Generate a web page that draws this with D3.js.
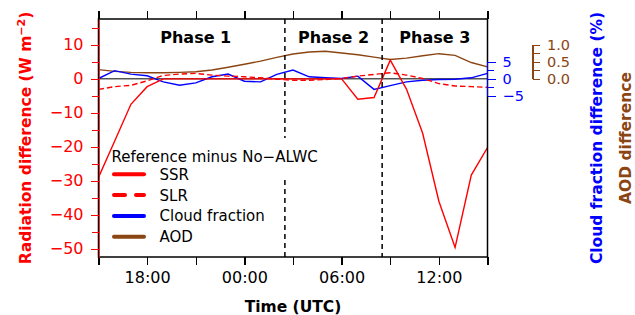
<!DOCTYPE html>
<html lang="en">
<head>
    <meta charset="UTF-8">
    <title>Reference minus No-ALWC</title>
    <script src="https://cdn.jsdelivr.net/npm/d3@7"></script>
</head>

<style>
    body {
        margin: 0;
        background: #fff;
    }
    text {
        font-family: "DejaVu Sans", sans-serif;
    }
    .axis path, .axis line {
        shape-rendering: crispEdges;
    }
</style>

<body>
<div class="chart"></div>
<script>
    // hourly values, Reference minus No-ALWC
    var times = ["15:00", "16:00", "17:00", "18:00", "19:00", "20:00", "21:00", "22:00", "23:00",
                 "00:00", "01:00", "02:00", "03:00", "04:00", "05:00", "06:00", "07:00", "08:00",
                 "09:00", "10:00", "11:00", "12:00", "13:00", "14:00", "15:00"];
    var ssr = [-29, -18.3, -7.5, -2.3, 0, 0, 0, 0, 0,
               0, 0, 0, 0, 0, 0, 0, -6, -5.5,
               5.5, -3, -16, -36, -49.6, -28.3, -20.2];
    var slr = [-3.1, -2.3, -1.9, -0.6, 1.0, 1.4, 1.6, 1.1, 0.8,
               0.6, 0.3, -0.1, -0.4, -0.4, -0.2, 0.1, 0.8, 1.3,
               1.8, 1.1, 0.1, -1.4, -2.1, -2.3, -2.5];
    var cloud = [0.1, 2.4, 1.4, 0.9, -0.9, -1.9, -1.2, 0.6, 1.4,
                 -0.7, -0.9, 1.3, 2.6, 0.6, 0.3, 0.1, 0.8, -3.1,
                 -2.0, -0.9, -0.4, -0.2, -0.1, 0.3, 1.6];
    var aod = [0.27, 0.22, 0.19, 0.18, 0.18, 0.19, 0.21, 0.26, 0.34,
               0.43, 0.52, 0.63, 0.73, 0.79, 0.81, 0.76, 0.71, 0.64,
               0.57, 0.61, 0.68, 0.74, 0.69, 0.48, 0.35];

    var phaseBreaks = ["02:30", "08:30"];
    var phaseNames = ["Phase 1", "Phase 2", "Phase 3"];
    var phaseLabelAt = ["21:00", "05:30", "11:45"];

    var radTicks = [-50, -40, -30, -20, -10, 0, 10];
    var cloudTicks = [-5, 0, 5];
    var aodTicks = [0, 0.5, 1.0];

    var legendTitle = "Reference minus No\u2212ALWC";
    var seriesNames = ["SSR", "SLR", "Cloud fraction", "AOD"];

    var red = "#ff0000", blue = "#0000ff", brown = "#8b4513";

    var width = 635, height = 315;
    var margin = {top: 19, right: 147.5, bottom: 58, left: 98.5};
    var W = width - margin.left - margin.right;
    var H = height - margin.top - margin.bottom;

    // "HH:MM" strings starting at 15:00, rolling over midnight
    function toDates(list) {
        var day = 1, last = 15 * 60 - 1;
        return list.map(function (s) {
            var p = s.split(":"), h = +p[0], m = +p[1], v = h * 60 + m;
            if (v <= last) day++;
            last = v;
            return new Date(Date.UTC(2000, 0, day, h, m));
        });
    }

    var t = toDates(times);

    var x = d3.scaleUtc().domain([t[0], t[t.length - 1]]).range([0, W]);
    var yRad = d3.scaleLinear().domain([-52.4, 17.6]).range([H, 0]);
    var yCloud = d3.scaleLinear().domain([-52.4, 17.6]).range([H, 0]);
    var yAod = d3.scaleLinear().domain([-5.24, 1.76]).range([H, 0]);

    var svg = d3.select(".chart").append("svg")
        .attr("width", width)
        .attr("height", height);

    var g = svg.append("g")
        .attr("transform", "translate(" + margin.left + "," + margin.top + ")");

    g.append("clipPath").attr("id", "plot-clip")
        .append("rect").attr("width", W).attr("height", H);

    // zero line
    g.append("line")
        .attr("x1", 0).attr("x2", W)
        .attr("y1", yRad(0)).attr("y2", yRad(0))
        .attr("stroke", "#000").attr("stroke-width", 1);

    var lines = g.append("g").attr("clip-path", "url(#plot-clip)");

    function drawLine(values, yScale, color, dash) {
        var line = d3.line()
            .x(function (d, i) { return x(t[i]); })
            .y(function (d) { return yScale(d); });
        lines.append("path")
            .datum(values)
            .attr("d", line)
            .attr("fill", "none")
            .attr("stroke", color)
            .attr("stroke-width", 1.4)
            .attr("stroke-dasharray", dash || null);
    }

    drawLine(aod, yAod, brown);
    drawLine(cloud, yCloud, blue);
    drawLine(slr, yRad, red, "5.5,3");
    drawLine(ssr, yRad, red);

    // frame
    g.append("rect")
        .attr("width", W).attr("height", H)
        .attr("fill", "none").attr("stroke", "#000").attr("stroke-width", 1.5);

    // axes
    var hourTicks = d3.utcHour.every(3);
    var fmt = d3.utcFormat("%H:%M");

    var xBottom = g.append("g").attr("class", "axis")
        .attr("transform", "translate(0," + H + ")")
        .call(d3.axisBottom(x).ticks(hourTicks).tickSize(8).tickPadding(7)
            .tickFormat(function (d) { return d.getUTCHours() % 6 === 0 ? fmt(d) : ""; }));
    xBottom.select(".domain").remove();
    xBottom.selectAll("text").attr("font-size", 16).attr("font-family", "DejaVu Sans");
    xBottom.selectAll("line").attr("stroke-width", 1.3);

    var xTop = g.append("g").attr("class", "axis")
        .call(d3.axisTop(x).ticks(hourTicks).tickSize(8).tickFormat(""));
    xTop.select(".domain").remove();
    xTop.selectAll("line").attr("stroke-width", 1.3);

    function styleAxis(sel, color, spineWidth, fontSize) {
        sel.select(".domain").attr("stroke", color).attr("stroke-width", spineWidth || 1.3);
        sel.selectAll("line").attr("stroke", color).attr("stroke-width", 1.3);
        sel.selectAll("text").attr("fill", color)
            .attr("font-size", fontSize || 16).attr("font-family", "DejaVu Sans");
    }

    // left: radiation
    var yLeftMinor = g.append("g").attr("class", "axis")
        .call(d3.axisLeft(yRad).tickValues(d3.range(-50, 16, 5)).tickSize(6.5).tickFormat("").tickSizeOuter(0));
    yLeftMinor.select(".domain").remove();
    styleAxis(yLeftMinor, red);
    var yLeft = g.append("g").attr("class", "axis")
        .call(d3.axisLeft(yRad).tickValues(radTicks).tickSize(8).tickPadding(7).tickSizeOuter(0));
    styleAxis(yLeft, red, 0.8);

    // right: cloud fraction
    var cloudX = W;
    var yCloudMinor = g.append("g").attr("class", "axis")
        .attr("transform", "translate(" + cloudX + ",0)")
        .call(d3.axisRight(yCloud).tickValues([-2.5, 2.5]).tickSize(6).tickFormat(""));
    yCloudMinor.select(".domain").remove();
    styleAxis(yCloudMinor, blue);
    var yRight = g.append("g").attr("class", "axis")
        .attr("transform", "translate(" + cloudX + ",0)")
        .call(d3.axisRight(yCloud).tickValues(cloudTicks).tickSize(8).tickPadding(7).tickSizeOuter(0));
    yRight.select(".domain").attr("d", "M0," + yCloud(5) + "V" + yCloud(-5));
    styleAxis(yRight, blue, 1.3, 14.5);

    // far right: AOD
    var aodX = W + 45.5;
    var yAodMinor = g.append("g").attr("class", "axis")
        .attr("transform", "translate(" + aodX + ",0)")
        .call(d3.axisRight(yAod).tickValues([0.25, 0.75]).tickSize(7).tickFormat(""));
    yAodMinor.select(".domain").remove();
    styleAxis(yAodMinor, brown);
    var yAodAxis = g.append("g").attr("class", "axis")
        .attr("transform", "translate(" + aodX + ",0)")
        .call(d3.axisRight(yAod).tickValues(aodTicks).tickSize(7).tickPadding(7)
            .tickFormat(d3.format(".1f")).tickSizeOuter(0));
    yAodAxis.select(".domain").attr("d", "M0," + yAod(1) + "V" + yAod(0));
    styleAxis(yAodAxis, brown, 1.3, 14.5);

    // ticks without labels keep no empty text
    g.selectAll(".axis text").filter(function () { return this.textContent === ""; }).remove();

    // phase labels
    var labelDates = toDates(phaseLabelAt);
    g.selectAll(".phase")
        .data(phaseNames)
        .enter().append("text")
        .attr("class", "phase")
        .attr("x", function (d, i) { return x(labelDates[i]); })
        .attr("y", 23.5)
        .attr("text-anchor", "middle")
        .attr("font-size", 16)
        .attr("font-weight", "bold")
        .text(function (d) { return d; });

    // legend
    var legend = g.append("g").attr("transform", "translate(13,143)");
    var lt = legend.append("text")
        .attr("x", 0).attr("y", 0)
        .attr("font-size", 15)
        .text(legendTitle);

    var legendStyle = [
        {color: red, dash: null},
        {color: red, dash: "11,11"},
        {color: blue, dash: null},
        {color: brown, dash: null}
    ];
    var rows = legend.selectAll(".row")
        .data(seriesNames)
        .enter().append("g")
        .attr("transform", function (d, i) { return "translate(0," + (12.3 + i * 20.8) + ")"; });
    rows.append("line")
        .attr("x1", 2.5).attr("x2", 32.5)
        .attr("stroke", function (d, i) { return legendStyle[i].color; })
        .attr("stroke-width", 4)
        .attr("stroke-linecap", "round")
        .attr("stroke-dasharray", function (d, i) { return legendStyle[i].dash; });
    rows.append("text")
        .attr("x", 48).attr("y", 5.5)
        .attr("font-size", 15)
        .text(function (d) { return d; });

    // phase boundaries, broken where they run through the legend title
    var tb = lt.node().getBBox();
    var tx0 = 13 + tb.x, tx1 = 13 + tb.x + tb.width;
    var gapTop = 143 + tb.y - 10, gapBottom = 143 + tb.y + tb.height + 14;
    toDates(phaseBreaks).forEach(function (d) {
        var px = x(d);
        var segs = (px > tx0 && px < tx1) ? [[0, gapTop], [gapBottom, H]] : [[0, H]];
        segs.forEach(function (s) {
            g.append("line")
                .attr("x1", px).attr("x2", px)
                .attr("y1", s[0]).attr("y2", s[1])
                .attr("stroke", "#000")
                .attr("stroke-width", 1.5)
                .attr("stroke-dasharray", "5,4");
        });
    });

    // axis titles
    svg.append("text")
        .attr("x", margin.left + W / 2).attr("y", 312)
        .attr("text-anchor", "middle")
        .attr("font-size", 15.5).attr("font-weight", "bold")
        .text("Time (UTC)");

    var leftTitle = svg.append("text")
        .attr("transform", "translate(31," + (margin.top + H / 2) + ") rotate(-90)")
        .attr("text-anchor", "middle")
        .attr("font-size", 15.5).attr("font-weight", "bold")
        .attr("fill", red);
    leftTitle.append("tspan").text("Radiation difference (W m");
    leftTitle.append("tspan").attr("dy", -6).attr("font-size", 11).text("\u22122");
    leftTitle.append("tspan").attr("dy", 6).text(")");

    svg.append("text")
        .attr("transform", "translate(602," + (margin.top + H / 2) + ") rotate(-90)")
        .attr("text-anchor", "middle")
        .attr("font-size", 15.5).attr("font-weight", "bold")
        .attr("fill", blue)
        .text("Cloud fraction difference (%)");

    svg.append("text")
        .attr("transform", "translate(631," + (margin.top + H / 2) + ") rotate(-90)")
        .attr("text-anchor", "middle")
        .attr("font-size", 15.5).attr("font-weight", "bold")
        .attr("fill", brown)
        .text("AOD difference");
</script>
</body>
</html>
